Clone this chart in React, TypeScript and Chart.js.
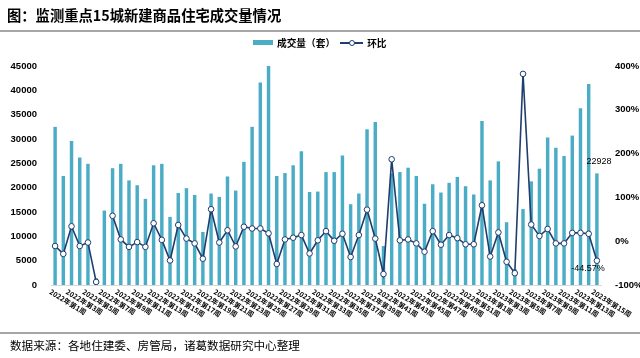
import React, { useEffect, useRef } from "react";
import { Chart, registerables } from "chart.js";

Chart.register(...registerables);

const TITLE = "图：监测重点15城新建商品住宅成交量情况";
const SOURCE = "数据来源：各地住建委、房管局，诸葛数据研究中心整理";
const BAR_NAME = "成交量（套）";
const LINE_NAME = "环比";

const weeks: string[] = [
  "2022年第1周", "2022年第2周", "2022年第3周", "2022年第4周", "2022年第5周", "2022年第6周",
  "2022年第7周", "2022年第8周", "2022年第9周", "2022年第10周", "2022年第11周", "2022年第12周",
  "2022年第13周", "2022年第14周", "2022年第15周", "2022年第16周", "2022年第17周", "2022年第18周",
  "2022年第19周", "2022年第20周", "2022年第21周", "2022年第22周", "2022年第23周", "2022年第24周",
  "2022年第25周", "2022年第26周", "2022年第27周", "2022年第28周", "2022年第29周", "2022年第30周",
  "2022年第31周", "2022年第32周", "2022年第33周", "2022年第34周", "2022年第35周", "2022年第36周",
  "2022年第37周", "2022年第38周", "2022年第39周", "2022年第40周", "2022年第41周", "2022年第42周",
  "2022年第43周", "2022年第44周", "2022年第45周", "2022年第46周", "2022年第47周", "2022年第48周",
  "2022年第49周", "2022年第50周", "2022年第51周", "2022年第52周",
  "2023年第1周", "2023年第2周", "2023年第3周", "2023年第4周", "2023年第5周", "2023年第6周",
  "2023年第7周", "2023年第8周", "2023年第9周", "2023年第10周", "2023年第11周", "2023年第12周",
  "2023年第13周", "2023年第14周", "2023年第15周",
];

const volume: number[] = [
  32500, 22400, 29600, 26200, 24900, 1400, 15300, 24000, 24900, 21500, 20500, 17700,
  24600, 24900, 14000, 18900, 19900, 18500, 10900, 18800, 18100, 22300, 19400, 25300,
  32500, 41600, 45000, 22400, 23000, 24600, 27500, 19100, 19200, 23200, 23200, 26600,
  16600, 18800, 32000, 33500, 8000, 22900, 23200, 24100, 22400, 16700, 20700, 19000,
  21000, 22200, 20300, 18600, 33700, 21500, 25400, 12900, 3300, 15600, 21300, 23900,
  30300, 28200, 26500, 30700, 36300, 41300, 22928,
];

const ratio: (number | null)[] = [
  -11, -29, 34, -11, -3, -93, null, 58, 4, -13, -2, -13,
  41, 3, -44, 37, 6, -5, -40, 73, -3, 25, -12, 33,
  29, 29, 18, -52, 4, 8, 14, -28, 2, 23, 1, 17,
  -36, 14, 72, 6, -75, 187, 2, 4, -5, -24, 23, -8,
  14, 7, -7, -7, 82, -35, 20, -47, -73, 382, 38, 12,
  28, -5, -5, 19, 19, 17, -44.57,
];

const leftTicks = { min: 0, max: 45000, step: 5000 };
const rightTicks = { min: -100, max: 400, step: 100 };

const BAR_COLOR = "#4BACC6";
const LINE_COLOR = "#1F3D6E";
const FONT = "'Liberation Sans', 'Noto Sans CJK SC', Arial, sans-serif";
const CJK = "'Noto Sans CJK SC', 'Liberation Sans', sans-serif";

const labelsPlugin = {
  id: "customLabels",
  afterDatasetsDraw(chart: any) {
    const ctx = chart.ctx;
    const barMeta = chart.getDatasetMeta(0);
    const lineMeta = chart.getDatasetMeta(1);
    const last = volume.length - 1;
    ctx.save();
    ctx.fillStyle = "#000";
    ctx.font = `9px ${FONT}`;
    ctx.textAlign = "center";
    ctx.textBaseline = "middle";
    const b = barMeta.data[last];
    if (b) ctx.fillText(String(volume[last]), b.x + 2, b.y - 12);
    const p = lineMeta.data[last];
    const r = ratio[last];
    if (p && r !== null) ctx.fillText(`${r.toFixed(2)}%`, p.x - 9, p.y + 8);
    ctx.restore();
  },
  afterDraw(chart: any) {
    const ctx = chart.ctx;
    const xs = chart.scales.x;
    const base = chart.chartArea.bottom;
    ctx.save();
    ctx.fillStyle = "#000";
    ctx.font = `bold 7px ${CJK}`;
    ctx.textAlign = "left";
    ctx.textBaseline = "top";
    for (let i = 0; i < weeks.length; i += 2) {
      const x = xs.getPixelForValue(i);
      ctx.save();
      ctx.translate(x - 3, base + 3);
      ctx.rotate((32 * Math.PI) / 180);
      ctx.fillText(weeks[i], 0, 0);
      ctx.restore();
    }
    ctx.restore();
  },
};

function ChartCanvas() {
  const ref = useRef<HTMLCanvasElement | null>(null);
  useEffect(() => {
    if (!ref.current) return;
    const chart = new Chart(ref.current, {
      type: "bar",
      data: {
        labels: weeks,
        datasets: [
          {
            type: "bar",
            label: BAR_NAME,
            data: volume,
            backgroundColor: BAR_COLOR,
            borderWidth: 0,
            barPercentage: 0.42,
            categoryPercentage: 1,
            yAxisID: "y",
            order: 2,
          },
          {
            type: "line",
            label: LINE_NAME,
            data: ratio,
            borderColor: LINE_COLOR,
            borderWidth: 1.6,
            pointRadius: 2.8,
            pointBackgroundColor: "#fff",
            pointBorderColor: LINE_COLOR,
            pointBorderWidth: 1,
            spanGaps: false,
            tension: 0,
            yAxisID: "y1",
            order: 1,
          },
        ],
      } as any,
      options: {
        animation: false,
        responsive: false,
        maintainAspectRatio: false,
        layout: { padding: { top: 66, bottom: 73, left: 0, right: 0 } },
        plugins: {
          legend: { display: false },
          title: { display: false },
          tooltip: { enabled: false },
        },
        scales: {
          x: {
            grid: { display: false },
            border: { display: true, color: "#D9D9D9", width: 1 },
            ticks: { display: false },
            afterFit: (s: any) => {
              s.height = 0;
            },
          },
          y: {
            position: "left",
            min: leftTicks.min,
            max: leftTicks.max,
            grid: { display: false },
            border: { display: false },
            ticks: {
              stepSize: leftTicks.step,
              padding: 6,
              color: "#000",
              font: { family: FONT, size: 9.5, weight: "bold" },
              callback: (v: any) => String(v),
            },
            afterFit: (s: any) => {
              s.width = 51;
            },
          },
          y1: {
            position: "right",
            min: rightTicks.min,
            max: rightTicks.max,
            grid: { display: false },
            border: { display: false },
            ticks: {
              stepSize: rightTicks.step,
              padding: 6,
              color: "#000",
              font: { family: FONT, size: 9.5, weight: "bold" },
              callback: (v: any) => `${v}%`,
            },
            afterFit: (s: any) => {
              s.width = 39;
            },
          },
        },
      } as any,
      plugins: [labelsPlugin],
    });
    return () => chart.destroy();
  }, []);
  return (
    <canvas
      ref={ref}
      width={640}
      height={358}
      style={{ position: "absolute", left: 0, top: 0, width: 640, height: 358 }}
    />
  );
}

export default function App() {
  return (
    <div
      style={{
        position: "fixed",
        left: 0,
        top: 0,
        width: 640,
        height: 358,
        background: "#fff",
        overflow: "hidden",
      }}
    >
      <ChartCanvas />
      <div
        style={{
          position: "absolute",
          left: 7,
          top: 5,
          fontFamily: CJK,
          fontWeight: "bold",
          fontSize: 14.3,
          lineHeight: "20px",
          color: "#000",
          whiteSpace: "nowrap",
        }}
      >
        {TITLE}
      </div>
      <div style={{ position: "absolute", left: 0, top: 30, width: 640, height: 2, background: "#A6A6A6" }} />
      <div
        style={{
          position: "absolute",
          left: 253,
          top: 34,
          height: 17,
          display: "flex",
          alignItems: "center",
          fontFamily: CJK,
          fontWeight: "bold",
          fontSize: 9.7,
          color: "#000",
          whiteSpace: "nowrap",
        }}
      >
        <div style={{ width: 20, height: 5, background: BAR_COLOR, marginRight: 4 }} />
        <span>{BAR_NAME}</span>
        <div style={{ position: "relative", width: 23, height: 9, marginLeft: 5, marginRight: 4 }}>
          <div style={{ position: "absolute", left: 0, top: 4, width: 23, height: 1.5, background: LINE_COLOR }} />
          <div
            style={{
              position: "absolute",
              left: 8.5,
              top: 1.5,
              width: 4,
              height: 4,
              borderRadius: "50%",
              background: "#fff",
              border: `1px solid ${LINE_COLOR}`,
            }}
          />
        </div>
        <span>{LINE_NAME}</span>
      </div>
      <div style={{ position: "absolute", left: 0, top: 332, width: 640, height: 2, background: "#A6A6A6" }} />
      <div
        style={{
          position: "absolute",
          left: 10,
          top: 337,
          fontFamily: CJK,
          fontSize: 11.6,
          lineHeight: "16px",
          color: "#000",
          whiteSpace: "nowrap",
        }}
      >
        {SOURCE}
      </div>
    </div>
  );
}
